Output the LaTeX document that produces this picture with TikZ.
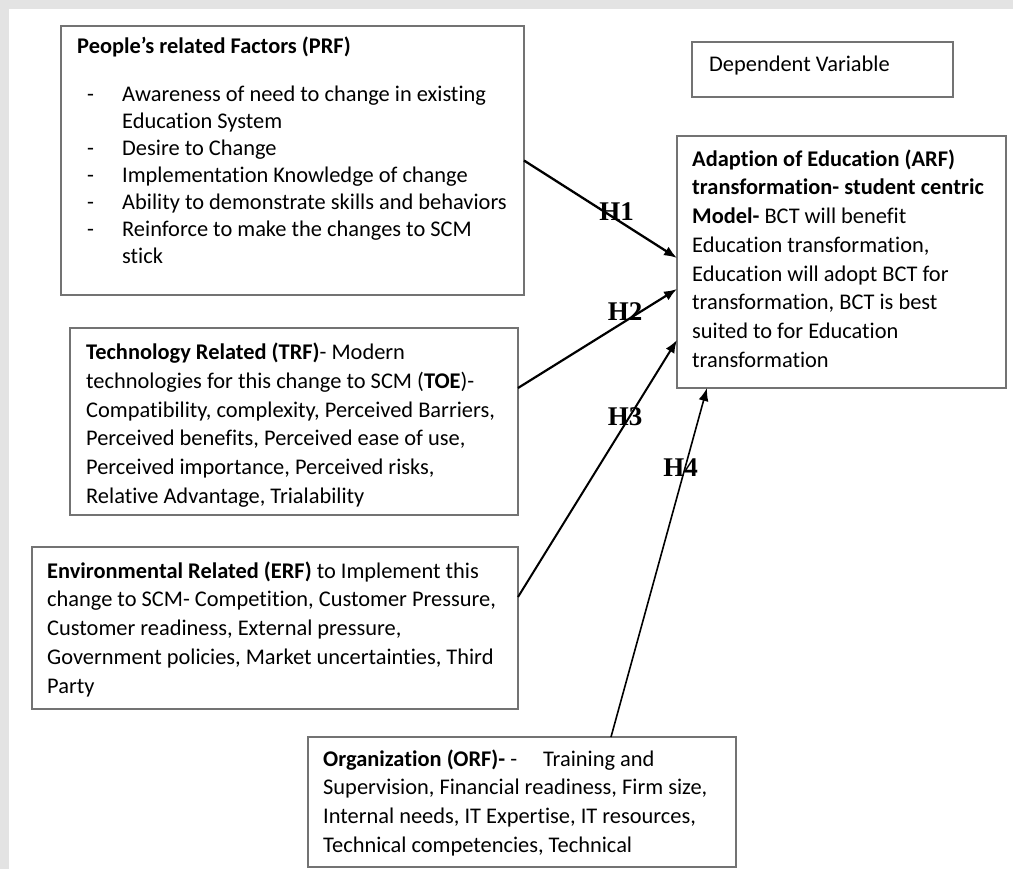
\documentclass[tikz,border=0pt]{standalone}
\usepackage{fontspec}
\setmainfont[Ligatures={NoCommon}]{Carlito}
\newfontfamily\hypfont{Liberation Serif}
\usetikzlibrary{arrows.meta}
\newcommand{\tstrut}{\rule{0pt}{18pt}}
\tikzset{
  Rahmen/.style={draw=black!55, line width=1.3pt, inner sep=0pt, outer sep=0pt, anchor=north west}, % Kasten
  Inhalt/.style={anchor=north west, inner sep=0pt, align=left, font=\fontsize{22.4}{#1}\selectfont}, % Kastentext
  Pfeil/.style={line width=#1, ->, >={Latex[length=13pt,width=10pt]}}, % Hypothesenpfeile
  Hyp/.style={inner sep=0pt, font=\hypfont\bfseries\fontsize{27}{27}\selectfont} % H1..H4
}
\begin{document}
\begin{tikzpicture}[x=1pt, y=-1pt]
\useasboundingbox (0,0) rectangle (1013,869);
\fill[black!11] (0,0) rectangle (1013,9);
\fill[black!11] (0,0) rectangle (9,869);

% % Kaesten
\node[Rahmen, minimum width=463pt, minimum height=269pt] (prf) at (61,26) {};
\node[Rahmen, minimum width=261pt, minimum height=55pt] (dv) at (692,42) {};
\node[Rahmen, minimum width=329pt, minimum height=252pt] (arf) at (677,136) {};
\node[Rahmen, minimum width=448pt, minimum height=187pt] (trf) at (70,328) {};
\node[Rahmen, minimum width=486pt, minimum height=162pt] (erf) at (32,547) {};
\node[Rahmen, minimum width=428pt, minimum height=130pt] (orf) at (308,737) {};

% % Texte
\node[Inhalt=27] (prf-text) at (77,35.5) {\tstrut\textbf{People’s related Factors (PRF)}\\[21pt]
  \hspace*{10pt}\makebox[35pt][l]{-}Awareness of need to change in existing\\
  \hspace*{45pt}Education System\\
  \hspace*{10pt}\makebox[35pt][l]{-}Desire to Change\\
  \hspace*{10pt}\makebox[35pt][l]{-}Implementation Knowledge of change\\
  \hspace*{10pt}\makebox[35pt][l]{-}Ability to demonstrate skills and behaviors\\
  \hspace*{10pt}\makebox[35pt][l]{-}Reinforce to make the changes to SCM\\
  \hspace*{45pt}stick};
\node[Inhalt=28.7] (dv-text) at (709,53) {\tstrut Dependent Variable};
\node[Inhalt=28.7] (arf-text) at (692,148) {\tstrut\textbf{Adaption of Education (ARF)}\\
  \textbf{transformation- student centric}\\
  \textbf{Model-} BCT will benefit\\
  Education transformation,\\
  Education will adopt BCT for\\
  transformation, BCT is best\\
  suited to for Education\\
  transformation};
\node[Inhalt=28.7] (trf-text) at (86,341.5) {\tstrut\textbf{Technology Related (TRF)}- Modern\\
  technologies for this change to SCM (\textbf{TOE})-\\
  Compatibility, complexity, Perceived Barriers,\\
  Perceived benefits, Perceived ease of use,\\
  Perceived importance, Perceived risks,\\
  Relative Advantage, Trialability};
\node[Inhalt=28.7] (erf-text) at (47,560) {\tstrut\textbf{Environmental Related (ERF)} to Implement this\\
  change to SCM- Competition, Customer Pressure,\\
  Customer readiness, External pressure,\\
  Government policies, Market uncertainties, Third\\
  Party};
\node[Inhalt=28.7] (orf-text) at (323,748) {\tstrut\makebox[220pt][l]{\textbf{Organization (ORF)-} -}Training and\\
  Supervision, Financial readiness, Firm size,\\
  Internal needs, IT Expertise, IT resources,\\
  Technical competencies, Technical};

% Pfeile
\draw[Pfeil=2.3pt] (prf.east) -- ([yshift=4pt]arf.west);
\draw[Pfeil=2.2pt] ([yshift=33.5pt]trf.east) -- ([yshift=-27pt]arf.west);
\draw[Pfeil=2pt] ([yshift=31pt]erf.east) -- ([yshift=-78pt]arf.west);
\draw[Pfeil=1.6pt] ([xshift=89pt]orf.north) -- ([xshift=-134.5pt]arf.south);

\node[Hyp] (h1) at (616.5,211.5) {H1};
\node[Hyp] (h2) at (625,312) {H2};
\node[Hyp] (h3) at (625,417) {H3};
\node[Hyp] (h4) at (680.5,467.5) {H4};

\end{tikzpicture}
\end{document}
